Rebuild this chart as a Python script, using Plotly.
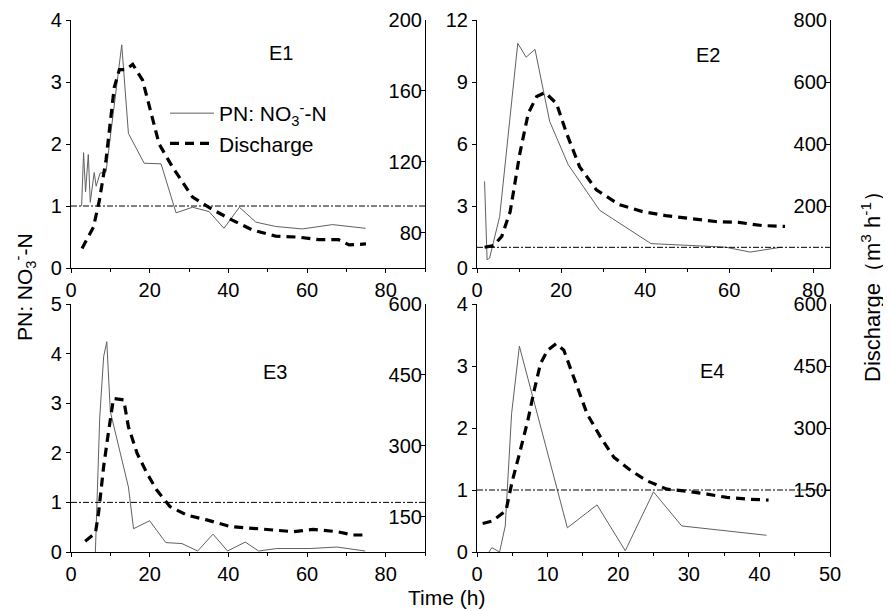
import plotly.graph_objects as go

# ---------------- data ----------------
e1_pn_t = [2.7, 3.2, 3.7, 4.4, 4.9, 5.9, 6.4, 7.4, 8.9, 12.9, 14.6, 18.6, 22.9, 26.7, 30.9, 35.1, 38.9, 42.8, 47.0, 52.0, 58.8, 66.5, 74.9]
e1_pn = [1.0, 1.86, 1.23, 1.83, 1.06, 1.54, 1.32, 1.53, 1.55, 3.6, 2.17, 1.69, 1.68, 0.89, 0.98, 0.91, 0.64, 0.98, 0.74, 0.67, 0.63, 0.70, 0.64]
e1_q_t = [2.8, 5.7, 7.2, 8.9, 11.0, 12.3, 14.0, 15.7, 18.2, 22.4, 25.8, 30.9, 36.0, 41.0, 46.1, 52.0, 58.0, 63.0, 68.0, 70.7, 75.0]
e1_q = [71, 83, 98, 121, 162, 172, 172, 175, 166, 130, 117, 100, 93, 87, 81.5, 78, 77.4, 76, 76, 73, 73.6]

e2_pn_t = [1.8, 2.4, 3.0, 5.4, 9.7, 11.7, 13.8, 17.3, 21.7, 29.2, 41.4, 53.6, 59.1, 65.0, 72.5]
e2_pn = [4.19, 0.4, 0.48, 2.5, 10.87, 10.2, 10.58, 7.09, 5.0, 2.79, 1.18, 1.08, 1.01, 0.77, 1.01]
e2_q_t = [1.8, 3.9, 5.9, 7.9, 10.2, 12.2, 14.2, 16.2, 18.9, 21.3, 24.4, 28.4, 33.9, 39.4, 44.9, 51.2, 56.7, 62.3, 67.8, 73.3]
e2_q = [67, 72, 102, 182, 370, 499, 553, 566, 531, 435, 327, 252, 204, 182, 169, 158, 150, 147, 137, 134]

e3_pn_t = [6.2, 7.3, 8.3, 9.1, 10.0, 14.6, 15.9, 20.0, 24.1, 28.2, 32.2, 36.1, 39.8, 44.3, 47.7, 52.3, 60.8, 67.6, 74.8]
e3_pn = [0.0, 2.7, 3.94, 4.24, 2.83, 1.31, 0.47, 0.63, 0.19, 0.17, 0.02, 0.36, 0.02, 0.2, 0.02, 0.07, 0.07, 0.1, 0.02]
e3_q_t = [3.6, 6.2, 7.0, 8.3, 9.6, 10.8, 13.4, 14.6, 16.8, 19.3, 21.8, 25.2, 29.5, 34.5, 40.5, 46.4, 51.5, 56.6, 61.6, 67.6, 71.8, 75.2]
e3_q = [98, 115, 157, 256, 333, 400, 397, 340, 284, 242, 206, 171, 153, 143, 129, 125, 123, 118, 123, 118, 111, 111]

e4_pn_t = [1.7, 2.1, 3.2, 4.0, 4.9, 6.0, 12.8, 17.0, 21.0, 25.0, 29.0, 41.0]
e4_pn = [0.0, 0.07, 0.0, 0.42, 2.23, 3.32, 0.39, 0.76, 0.02, 0.97, 0.42, 0.27]
e4_q_t = [0.8, 2.2, 4.1, 5.0, 6.0, 7.2, 8.1, 9.0, 10.0, 11.2, 12.3, 13.7, 15.6, 17.5, 19.4, 21.8, 24.1, 26.9, 29.8, 32.6, 35.4, 38.2, 41.3]
e4_q = [69, 75, 100, 172, 237, 318, 391, 456, 488, 504, 488, 423, 334, 278, 229, 197, 172, 152, 147, 140, 132, 128, 125.5]

panel_names = ["E1", "E2", "E3", "E4"]
threshold = 1

left_ranges = [[0, 4], [0, 12], [0, 5], [0, 4]]
left_dticks = [1, 3, 1, 1]
right_ranges = [[60, 200], [0, 800], [75, 600], [0, 600]]
right_tickvals = [[80, 120, 160, 200], [200, 400, 600, 800], [150, 300, 450, 600], [150, 300, 450, 600]]
x_ranges = [[0, 90], [0, 84], [0, 90], [0, 50]]
x_dticks = [20, 20, 20, 10]

pn_t = [e1_pn_t, e2_pn_t, e3_pn_t, e4_pn_t]
pn_v = [e1_pn, e2_pn, e3_pn, e4_pn]
q_t = [e1_q_t, e2_q_t, e3_q_t, e4_q_t]
q_v = [e1_q, e2_q, e3_q, e4_q]

# ---------------- figure ----------------
OFF = 8  # default page body margin
W, H = 891 - OFF, 611 - OFF
PL, PT, PR, PB = 71, 20, 830, 552  # plot area in page pixels
ml, mt = PL - OFF, PT - OFF
mr, mb = W + OFF - PR, H + OFF - PB
pw, ph = PR - PL, PB - PT

def px_x(p):
    return (p - PL) / pw

def px_y(p):
    return (PB - p) / ph

x_domains = [[0, px_x(425)], [px_x(477), 1], [0, px_x(425)], [px_x(477), 1]]
y_domains = [[px_y(268), 1], [px_y(268), 1], [0, px_y(304)], [0, px_y(304)]]

FONT = "Arial, Liberation Sans, sans-serif"
fig = go.Figure()
layout = dict(
    width=W, height=H,
    margin=dict(l=ml, r=mr, t=mt, b=mb, autoexpand=False),
    paper_bgcolor="white", plot_bgcolor="white",
    font=dict(family=FONT, size=20, color="black"),
    showlegend=True,
    legend=dict(x=px_x(165), y=px_y(93), xanchor="left", yanchor="top", itemwidth=44,
                bgcolor="rgba(0,0,0,0)", font=dict(size=21, color="black"), tracegroupgap=0),
)

for i in range(4):
    n = i + 1
    xa = "x" if n == 1 else f"x{n}"
    ya = "y" if n == 1 else f"y{n}"
    yr = f"y{n+4}"
    fig.add_trace(go.Scatter(x=pn_t[i], y=pn_v[i], xaxis=xa, yaxis=ya, mode="lines",
                             line=dict(color="#606060", width=1),
                             name="PN: NO<sub>3</sub><sup>-</sup>-N", showlegend=(i == 0)))
    fig.add_trace(go.Scatter(x=q_t[i], y=q_v[i], xaxis=xa, yaxis=yr, mode="lines",
                             line=dict(color="black", width=3.2, dash="9px,6px"),
                             name="Discharge", showlegend=(i == 0)))
    xkey = "xaxis" if n == 1 else f"xaxis{n}"
    ykey = "yaxis" if n == 1 else f"yaxis{n}"
    layout[xkey] = dict(domain=x_domains[i], range=x_ranges[i], dtick=x_dticks[i], tick0=0,
                        anchor=ya, showline=True, linecolor="black", linewidth=1.2,
                        ticks="outside", ticklen=4, tickcolor="black", showgrid=False,
                        zeroline=False, automargin=False, tickfont=dict(size=20, color="black"),
                        minor=dict(ticks="outside", ticklen=3, dtick=x_dticks[i] / 2, tickcolor="black"))
    layout[ykey] = dict(domain=y_domains[i], range=left_ranges[i], dtick=left_dticks[i], tick0=0,
                        anchor=xa, showline=True, linecolor="black", linewidth=1.2,
                        ticks="outside", ticklen=4, tickcolor="black", showgrid=False,
                        zeroline=False, automargin=False, tickfont=dict(size=20, color="black"))
    layout[f"yaxis{n+4}"] = dict(domain=y_domains[i], range=right_ranges[i], tickvals=right_tickvals[i],
                                 overlaying=ya, side="right", anchor=xa, showline=True,
                                 linecolor="black", linewidth=1.2, ticks="inside", ticklen=4,
                                 tickcolor="black", ticklabelposition="inside",
                                 ticklabeloverflow="allow", showgrid=False, automargin=False,
                                 zeroline=False, tickfont=dict(size=20, color="black"))

fig.update_layout(**layout)

shapes = []
for i in range(4):
    n = i + 1
    xa = "x" if n == 1 else f"x{n}"
    ya = "y" if n == 1 else f"y{n}"
    shapes.append(dict(type="line", xref=f"{xa} domain", yref=ya, x0=0, x1=1,
                       y0=threshold, y1=threshold,
                       line=dict(color="black", width=1, dash="6px,2px,2px,2px")))
fig.update_layout(shapes=shapes)

title_pos = [(281, 53), (708, 55), (275, 372), (712, 371)]
annotations = []
for name, (tx, ty) in zip(panel_names, title_pos):
    annotations.append(dict(text=name, x=px_x(tx), y=px_y(ty), xref="paper", yref="paper",
                            xanchor="center", yanchor="middle",
                            showarrow=False, font=dict(size=20)))
annotations.append(dict(text="PN: NO<sub>3</sub><sup>-</sup>-N", x=px_x(24), y=px_y(287),
                        xref="paper", yref="paper", showarrow=False, textangle=-90,
                        xanchor="center", yanchor="middle", font=dict(size=21)))
annotations.append(dict(text="Discharge\uff08m<sup>3</sup> h<sup>-1</sup>\uff09", x=px_x(871), y=px_y(281),
                        xref="paper", yref="paper", showarrow=False, textangle=-90,
                        xanchor="center", yanchor="middle", font=dict(size=22)))
annotations.append(dict(text="Time (h)", x=px_x(446), y=px_y(597), xref="paper", yref="paper",
                        xanchor="center", yanchor="middle",
                        showarrow=False, font=dict(size=21)))
fig.update_layout(annotations=annotations)

fig.write_html("out.html")
